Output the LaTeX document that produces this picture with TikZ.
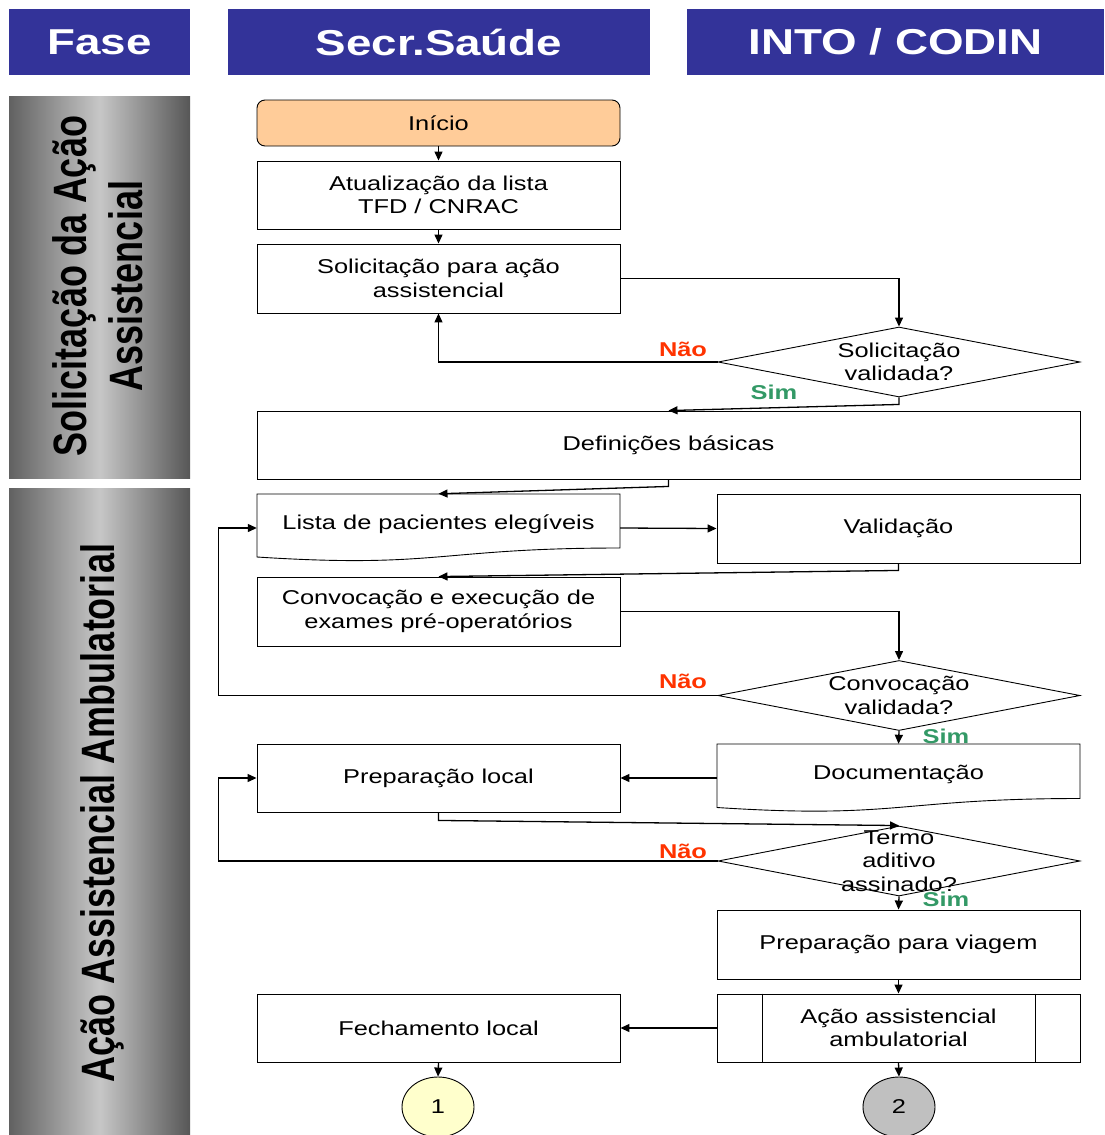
\documentclass[tikz,border=0pt]{standalone}
\usepackage{fontspec}
\setmainfont{Liberation Sans}[FakeStretch=1.27]
\newfontfamily\rotfont{Liberation Sans}
\usepackage{graphicx}
\usetikzlibrary{arrows.meta,shapes.geometric,calc}
\definecolor{hdrblue}{HTML}{333399}
\definecolor{peach}{HTML}{FFCC99}
\definecolor{naocol}{HTML}{FF3300}
\definecolor{simcol}{HTML}{339966}
\definecolor{lightyel}{HTML}{FFFFCC}
\definecolor{circgray}{HTML}{C0C0C0}
\begin{document}
\begin{tikzpicture}[x=1pt,y=-1pt,
  hdr/.style={fill=hdrblue, text=white, font=\fontsize{36}{40}\selectfont\bfseries, minimum height=66pt, inner sep=0pt},
  phase/.style={left color=black!62, right color=black!66, middle color=black!22, minimum width=181pt, inner sep=0pt},
  rottxt/.style={rotate=90, inner sep=0pt, font=\rotfont\fontsize{36}{43}\selectfont\bfseries},
  box/.style={draw, line width=0.9pt, fill=white, minimum width=363pt, minimum height=68pt, inner sep=0pt, align=center, font=\fontsize{20}{23.5}\selectfont},
  docbox/.style={minimum width=363pt, minimum height=68pt, inner sep=0pt, align=center, font=\fontsize{20}{23.5}\selectfont},
  dia/.style={draw, diamond, fill=white, line width=0.9pt, minimum width=362pt, minimum height=70pt, inner sep=0pt},
  txt/.style={inner sep=0pt, align=center, font=\fontsize{20}{23.5}\selectfont},
  circ/.style={draw, ellipse, line width=0.9pt, minimum width=72pt, minimum height=60pt, inner sep=0pt, font=\fontsize{20}{23.5}\selectfont},
  nao/.style={inner sep=0pt, text=naocol, font=\fontsize{20}{23.5}\selectfont\bfseries},
  sim/.style={inner sep=0pt, text=simcol, font=\fontsize{20}{23.5}\selectfont\bfseries},
  arr/.style={-{Triangle[length=9pt,width=8pt]}, line width=1.3pt},
  thin/.style={line width=0.9pt}
]
\useasboundingbox (0,0) rectangle (1104,1135);

% headers
\node[hdr, minimum width=181pt] (hfase) at (99.5,42) {Fase};
\node[hdr, minimum width=422pt] (hsec) at (439,42) {Secr.Saúde};
\node[hdr, minimum width=417pt] (hinto) at (895.5,42) {INTO / CODIN};

% phase bars
\node[phase, minimum height=382pt] (ph1) at (99.5,287) {};
\node[phase, minimum height=647pt] (ph2) at (99.5,811.5) {};
\node[rottxt] (ph1t) at (103,286) {\scalebox{1}[1.3]{\begin{tabular}{@{}c@{}}Solicitação da Ação\\Assistencial\end{tabular}}};
\node[rottxt] (ph2t) at (102,813) {\scalebox{1}[1.3]{Ação Assistencial Ambulatorial}};

% boxes
\node[box, rounded corners=8pt, fill=peach, minimum height=46pt] (inicio) at (438.5,123) {Início};
\node[box] (atual) at (438.5,195) {Atualização da lista\\TFD / CNRAC};
\node[box, minimum height=69pt] (solic) at (438.5,278.5) {Solicitação para ação\\assistencial};
\node[dia] (d1) at (899,362) {};
\node[txt] (d1t) at (d1) {Solicitação\\validada?};
\node[box, minimum width=823pt] (defin) at (668.5,445) {Definições básicas};

\draw[thin] (257,494) -- (620,494) -- (620,548) .. controls (438.5,548) and (438.5,568.7) .. (257,557) -- cycle;
\node[docbox] (lista) at (438.5,528) {\raisebox{12pt}{Lista de pacientes elegíveis}};
\node[box, minimum height=69pt] (valid) at (898.5,528.5) {Validação};
\node[box, minimum height=69pt] (convoc) at (438.5,611.5) {Convocação e execução de\\exames pré-operatórios};
\node[dia] (d2) at (899,695.5) {};
\node[txt] (d2t) at (d2) {Convocação\\validada?};

\draw[thin] (717,744) -- (1080,744) -- (1080,798.5) .. controls (898.5,798.5) and (898.5,819.3) .. (717,807.5) -- cycle;
\node[docbox] (docum) at (898.5,778) {\raisebox{12pt}{Documentação}};
\node[box] (preploc) at (438.5,778) {Preparação local};
\node[dia] (d3) at (899,861) {};
\node[txt] (d3t) at (d3) {Termo\\aditivo\\assinado?};
\node[box, minimum height=69pt] (viagem) at (898.5,944.5) {Preparação para viagem};
\node[box] (acao) at (898.5,1028) {Ação assistencial\\ambulatorial};
\draw[thin] ([xshift=46pt]acao.north west) -- ([xshift=46pt]acao.south west);
\draw[thin] ([xshift=-45pt]acao.north east) -- ([xshift=-45pt]acao.south east);
\node[box] (fech) at (438.5,1028) {Fechamento local};
\node[circ, fill=lightyel] (c1) at (438,1107) {1};
\node[circ, fill=circgray] (c2) at (899,1107) {2};

% connectors
\draw[arr] (inicio.south) -- (atual.north);
\draw[arr] (atual.south) -- (solic.north);
\draw[arr] (solic.east) -| (d1.north);
\draw[arr] (d1.west) -| (solic.south);
\draw[arr] (d1.south) -- ++(0,7) -- (defin.north);
\draw[arr] (defin.south) -- ++(0,7) -- (lista.north);
\draw[arr] (lista.east) -- (valid.west);
\draw[arr] (valid.south) -- ++(0,7) -- (convoc.north);
\draw[arr] (convoc.east) -| (d2.north);
\draw[arr] (d2.west) -| ([xshift=-38pt]lista.west) -- (lista.west);
\draw[arr] (d2.south) -- (docum.north);
\draw[arr] (docum.west) -- (preploc.east);
\draw[arr] (preploc.south) -- ++(0,8) -- (d3.north);
\draw[arr] (d3.west) -| ([xshift=-38pt]preploc.west) -- (preploc.west);
\draw[arr] (d3.south) -- (viagem.north);
\draw[arr] (viagem.south) -- (acao.north);
\draw[arr] (acao.west) -- (fech.east);
\draw[arr] (fech.south) -- (c1.north);
\draw[arr] (acao.south) -- (c2.north);

% labels
\node[nao] (n1) at (683,349) {Não};
\node[sim] (s1) at (774,392) {Sim};
\node[nao] (n2) at (683,681) {Não};
\node[sim] (s2) at (946,736) {Sim};
\node[nao] (n3) at (683,851) {Não};
\node[sim] (s3) at (946,899) {Sim};
\end{tikzpicture}
\end{document}
